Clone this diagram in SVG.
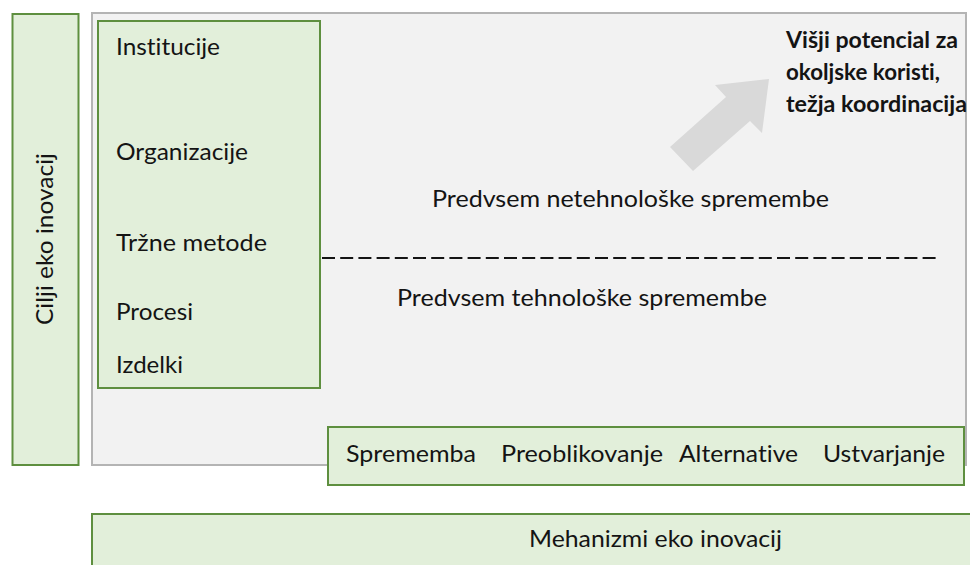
<svg xmlns="http://www.w3.org/2000/svg" width="970" height="565" viewBox="0 0 970 565">
  <style>
    .green { fill: #e2efda; stroke: #5e8f3f; stroke-width: 2; }
    .panel { fill: #f2f2f2; stroke: #b4b4b4; stroke-width: 2; }
    text { font-family: Lato, "Open Sans", "Liberation Sans", sans-serif; font-size: 24px; fill: #141414; font-variant-ligatures: none; }
    .bold { font-weight: bold; font-size: 22.5px; }
    .divider { stroke: #141414; stroke-width: 2; stroke-dasharray: 13 5.2; fill: none; }
    .arrow { fill: #d9d9d9; }
  </style>

  <rect width="970" height="565" fill="#ffffff"/>

  <!-- background panel -->
  <g id="panel">
    <rect class="panel" x="92" y="13" width="874" height="452"/>
  </g>

  <!-- vertical axis label -->
  <g id="cilji">
    <rect class="green" x="12.5" y="14" width="66" height="451"/>
    <text transform="translate(53 239) rotate(-90)" text-anchor="middle" textLength="172" lengthAdjust="spacingAndGlyphs">Cilji eko inovacij</text>
  </g>

  <!-- targets list -->
  <g id="cilji-seznam">
    <rect class="green" x="98" y="21" width="222" height="367"/>
    <text x="116" y="55" textLength="104" lengthAdjust="spacingAndGlyphs">Institucije</text>
    <text x="116" y="160" textLength="132" lengthAdjust="spacingAndGlyphs">Organizacije</text>
    <text x="116" y="251" textLength="151" lengthAdjust="spacingAndGlyphs">Tržne metode</text>
    <text x="116" y="320" textLength="77" lengthAdjust="spacingAndGlyphs">Procesi</text>
    <text x="116" y="373" textLength="67" lengthAdjust="spacingAndGlyphs">Izdelki</text>
  </g>

  <!-- region labels -->
  <g id="netehnoloske">
    <text x="432" y="207" textLength="397" lengthAdjust="spacingAndGlyphs">Predvsem netehnološke spremembe</text>
  </g>
  <g id="tehnoloske">
    <text x="397" y="306" textLength="370" lengthAdjust="spacingAndGlyphs">Predvsem tehnološke spremembe</text>
  </g>

  <g id="potencial">
    <text class="bold" x="786" y="48" textLength="172" lengthAdjust="spacingAndGlyphs">Višji potencial za</text>
    <text class="bold" x="786" y="80" textLength="154" lengthAdjust="spacingAndGlyphs">okoljske koristi,</text>
    <text class="bold" x="786" y="112" textLength="181" lengthAdjust="spacingAndGlyphs">težja koordinacija</text>
  </g>

  <!-- mechanisms row -->
  <g id="mehanizmi-seznam">
    <rect class="green" x="328" y="427" width="636" height="58"/>
    <text x="346" y="462" textLength="130" lengthAdjust="spacingAndGlyphs">Sprememba</text>
    <text x="501" y="462" textLength="162" lengthAdjust="spacingAndGlyphs">Preoblikovanje</text>
    <text x="679" y="462" textLength="119" lengthAdjust="spacingAndGlyphs">Alternative</text>
    <text x="823" y="462" textLength="122" lengthAdjust="spacingAndGlyphs">Ustvarjanje</text>
  </g>

  <!-- horizontal axis label -->
  <g id="mehanizmi">
    <rect class="green" x="92" y="514" width="890" height="60"/>
    <text x="529" y="547" textLength="253" lengthAdjust="spacingAndGlyphs">Mehanizmi eko inovacij</text>
  </g>

  <!-- divider and direction arrow -->
  <g id="connectors">
    <line class="divider" x1="322" y1="258" x2="937" y2="258"/>
    <polygon class="arrow" points="670,147 726,97 715,85 769,79 762,133 750,121 693,171"/>
  </g>
</svg>
